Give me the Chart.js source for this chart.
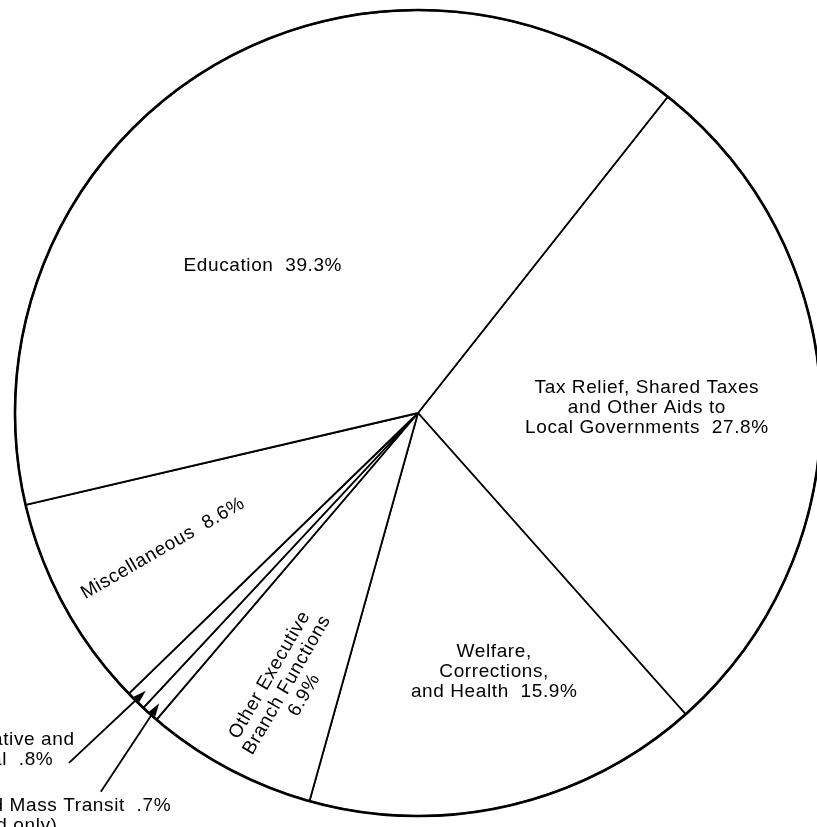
<!DOCTYPE html>
<html>
<head>
<meta charset="utf-8">
<script src="https://cdn.jsdelivr.net/npm/chart.js@4.4.1/dist/chart.umd.min.js"></script>
<style>
  html,body{margin:0;padding:0;background:#fff;overflow:hidden;}
  #wrap{width:817px;height:827px;overflow:hidden;position:relative;}
  canvas{position:absolute;left:0;top:0;}
</style>
</head>
<body>
<div id="wrap"><canvas id="pie" width="822" height="827"></canvas></div>
<script>
// slices, clockwise from the Education / Tax Relief boundary
const categories = ['Tax Relief, Shared Taxes and Other Aids to Local Governments','Welfare, Corrections, and Health','Other Executive Branch Functions','Highways and Mass Transit (General Fund only)','Legislative and Judicial','Miscellaneous','Education'];
const shares = [27.8, 15.9, 6.9, 0.7, 0.8, 8.6, 39.3];
const labelText = [
  ['Tax Relief, Shared Taxes','and Other Aids to','Local Governments  27.8%'],
  ['Welfare,','Corrections,','and Health  15.9%'],
  ['Other Executive','Branch Functions','6.9%'],
  ['Highways and Mass Transit  .7%','(General Fund only)'],
  ['Legislative and','Judicial  .8%'],
  ['Miscellaneous  8.6%'],
  ['Education  39.3%']
];

// label placement relative to pie centre, in units of radius
const labelPos = [
  {x:0.568, y:-0.012, rot:0, align:'center'},
  {x:0.189, y:0.643, rot:0, align:'center'},
  {x:-0.325, y:0.675, rot:-60, align:'center'},
  {x:-1.342, y:0.975, rot:0, align:'left', arrow:[-0.787,0.940]},
  {x:-1.189, y:0.811, rot:0, align:'left', arrow:[-0.866,0.868]},
  {x:-0.633, y:0.336, rot:-30, align:'center'},
  {x:-0.385, y:-0.365, rot:0, align:'center'}
];
const FONT = '19px "Liberation Sans", Arial, sans-serif';
const LINE_H = 20;

const labelPlugin = {
  id:'pieLabels',
  afterDatasetsDraw(chart){
    const ctx = chart.ctx;
    const arcs = chart.getDatasetMeta(0).data;
    const cx = arcs[0].x, cy = arcs[0].y, R = arcs[0].outerRadius;
    // heavier outer rim
    ctx.save();
    ctx.beginPath(); ctx.arc(cx, cy, R, 0, Math.PI*2);
    ctx.lineWidth = 2.6; ctx.strokeStyle = '#000'; ctx.stroke();
    ctx.restore();

    ctx.save();
    ctx.font = FONT; ctx.fillStyle = '#000'; ctx.textBaseline = 'middle';
    if('letterSpacing' in ctx) ctx.letterSpacing = '0.6px';
    labelText.forEach((lines, i) => {
      const p = labelPos[i];
      const lx = cx + p.x*R, ly = cy + p.y*R;
      ctx.save();
      ctx.translate(lx, ly);
      ctx.rotate(p.rot*Math.PI/180);
      ctx.textAlign = p.align;
      const off = p.align === 'center' ? -(lines.length-1)*LINE_H/2 : 0;
      lines.forEach((t, k) => ctx.fillText(t, 0, off + k*LINE_H));
      ctx.restore();
      if(p.arrow){
        const a = arcs[i];
        const mid = (a.startAngle + a.endAngle)/2;
        const tx = cx + Math.cos(mid)*R*0.965, ty = cy + Math.sin(mid)*R*0.965;
        const sx = cx + p.arrow[0]*R, sy = cy + p.arrow[1]*R;
        const ang = Math.atan2(ty-sy, tx-sx);
        ctx.save();
        ctx.strokeStyle = '#000'; ctx.fillStyle = '#000'; ctx.lineWidth = 1.8;
        ctx.beginPath(); ctx.moveTo(sx, sy);
        ctx.lineTo(tx - Math.cos(ang)*8, ty - Math.sin(ang)*8); ctx.stroke();
        ctx.beginPath(); ctx.moveTo(tx, ty);
        ctx.lineTo(tx - Math.cos(ang)*13 + Math.sin(ang)*4, ty - Math.sin(ang)*13 - Math.cos(ang)*4);
        ctx.lineTo(tx - Math.cos(ang)*13 - Math.sin(ang)*4, ty - Math.sin(ang)*13 + Math.cos(ang)*4);
        ctx.closePath(); ctx.fill();
        ctx.restore();
      }
    });
    ctx.restore();
  }
};

new Chart(document.getElementById('pie'), {
  type:'pie',
  data:{labels:categories, datasets:[{data:shares, backgroundColor:'#fff', borderColor:'#000', borderWidth:1.8, borderAlign:'center'}]},
  options:{
    responsive:false, animation:false,
    rotation:38.3,
    radius:403,
    layout:{padding:{left:14, right:0, top:0, bottom:1}},
    plugins:{legend:{display:false}, tooltip:{enabled:false}}
  },
  plugins:[labelPlugin]
});
</script>
</body>
</html>
